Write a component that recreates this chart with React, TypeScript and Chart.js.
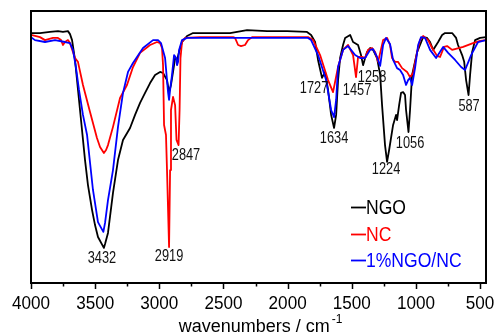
import { useEffect, useRef } from 'react';
import { Chart, registerables } from 'chart.js';

Chart.register(...registerables);

// ---- Data (wavenumber in cm^-1, transmittance in a.u.) ----
const ngoWn = [4000, 3930, 3852, 3790, 3751, 3712, 3696, 3680, 3657, 3618, 3579, 3556, 3524, 3501, 3478, 3432, 3423, 3400, 3361, 3322, 3283, 3228, 3189, 3150, 3111, 3072, 3033, 2994, 2971, 2940, 2924, 2909, 2893, 2877, 2862, 2846, 2823, 2784, 2737, 2683, 2449, 2316, 2160, 2004, 1849, 1817, 1786, 1763, 1732, 1708, 1685, 1661, 1638, 1622, 1607, 1591, 1568, 1552, 1513, 1490, 1451, 1428, 1412, 1396, 1381, 1357, 1334, 1303, 1279, 1264, 1241, 1225, 1209, 1178, 1155, 1147, 1131, 1116, 1100, 1085, 1077, 1058, 1046, 1030, 991, 944, 913, 890, 866, 827, 796, 773, 718, 687, 672, 640, 624, 609, 590, 578, 562, 539, 500, 454];
const ngoT = [91.9, 91.9, 92.3, 92.6, 92.3, 92.6, 91.5, 89.3, 82.0, 63.6, 45.2, 36.0, 26.8, 21.3, 16.9, 12.9, 14.3, 18.4, 33.1, 45.2, 52.6, 57.0, 61.8, 66.2, 69.9, 73.5, 76.5, 77.6, 77.2, 74.6, 70.2, 72.8, 77.6, 82.7, 82.0, 84.9, 88.6, 90.8, 91.9, 91.9, 91.9, 93.0, 92.6, 92.6, 92.3, 91.2, 88.6, 82.0, 75.4, 77.6, 71.0, 61.8, 57.0, 61.8, 74.6, 82.7, 87.5, 90.1, 91.2, 88.6, 87.5, 83.8, 80.1, 82.7, 84.9, 86.4, 85.7, 82.7, 76.5, 65.4, 50.7, 44.5, 48.9, 58.1, 61.8, 59.9, 65.4, 69.9, 70.2, 69.1, 63.6, 55.5, 63.6, 76.5, 84.9, 90.4, 90.1, 88.6, 85.7, 88.6, 91.2, 91.9, 91.9, 90.1, 87.5, 83.8, 81.3, 74.6, 69.1, 76.5, 84.9, 89.3, 90.1, 90.4];

const ncWn = [4000, 3930, 3891, 3829, 3790, 3766, 3751, 3735, 3712, 3696, 3673, 3657, 3634, 3595, 3540, 3486, 3462, 3432, 3415, 3400, 3361, 3306, 3252, 3205, 3150, 3072, 3018, 2994, 2979, 2971, 2963, 2948, 2940, 2924, 2916, 2909, 2893, 2877, 2866, 2850, 2842, 2835, 2823, 2800, 2683, 2425, 2410, 2386, 2363, 2332, 2308, 2277, 2059, 1841, 1801, 1747, 1685, 1646, 1607, 1568, 1529, 1490, 1467, 1451, 1420, 1396, 1373, 1342, 1318, 1295, 1256, 1225, 1202, 1186, 1163, 1140, 1108, 1069, 1046, 1022, 991, 968, 944, 905, 874, 835, 812, 781, 757, 718, 632, 555, 500, 454];
const ncT = [91.2, 90.4, 89.3, 90.1, 90.1, 89.3, 87.5, 88.6, 89.3, 88.2, 84.9, 82.7, 81.3, 72.8, 62.9, 53.3, 50.0, 47.8, 48.9, 50.7, 57.4, 68.0, 72.8, 79.4, 84.6, 87.5, 88.6, 88.2, 86.4, 80.1, 58.1, 54.4, 41.5, 13.2, 41.5, 63.6, 68.4, 65.4, 52.6, 50.7, 63.6, 82.7, 88.6, 90.1, 90.4, 90.4, 90.1, 87.5, 87.1, 87.5, 89.3, 90.4, 90.4, 90.4, 89.3, 83.8, 74.6, 70.2, 79.4, 85.7, 87.5, 83.8, 75.7, 83.1, 83.1, 82.7, 85.7, 86.4, 84.9, 81.3, 89.3, 90.1, 87.5, 82.7, 81.3, 81.3, 79.0, 77.6, 75.7, 77.2, 84.9, 89.3, 90.8, 89.3, 86.4, 83.5, 83.1, 86.8, 87.1, 85.7, 86.8, 88.2, 89.0, 89.3];

const compWn = [4000, 3969, 3891, 3813, 3735, 3696, 3673, 3649, 3626, 3595, 3563, 3517, 3478, 3462, 3436, 3423, 3400, 3361, 3322, 3283, 3244, 3205, 3127, 3049, 3010, 2987, 2955, 2932, 2924, 2916, 2901, 2885, 2869, 2862, 2854, 2846, 2823, 2784, 2683, 2293, 1841, 1817, 1763, 1700, 1661, 1638, 1622, 1607, 1568, 1529, 1474, 1435, 1396, 1357, 1334, 1303, 1279, 1256, 1233, 1202, 1178, 1147, 1124, 1100, 1077, 1061, 1046, 1030, 1007, 983, 960, 929, 890, 843, 788, 749, 695, 648, 617, 570, 516, 454];
const compT = [90.4, 89.3, 88.6, 89.3, 88.6, 88.2, 85.7, 79.0, 71.0, 61.8, 54.4, 34.2, 22.4, 21.0, 18.8, 22.1, 30.5, 41.5, 57.4, 69.9, 77.6, 80.9, 86.4, 89.3, 89.3, 88.2, 82.7, 70.2, 67.3, 71.0, 76.5, 83.8, 82.7, 80.1, 81.3, 85.7, 89.3, 90.1, 90.1, 90.1, 90.1, 89.3, 83.8, 74.6, 63.6, 61.0, 67.3, 79.4, 85.7, 87.1, 83.8, 82.7, 82.7, 85.7, 86.0, 83.1, 79.8, 87.5, 90.1, 87.9, 82.0, 79.0, 78.3, 76.5, 72.8, 74.6, 75.4, 72.8, 79.0, 87.5, 90.4, 90.1, 85.7, 82.7, 86.8, 84.6, 82.0, 79.4, 78.3, 83.8, 88.6, 89.3];

const seriesNames = ['NGO', 'NC', '1%NGO/NC'];
const seriesColors = ['#000000', '#ff0000', '#0000ff'];

const xTickValues = [4000, 3500, 3000, 2500, 2000, 1500, 1000, 500];
const xAxisTitle = 'wavenumbers / cm';
const xAxisTitleSup = '-1';

const peakLabels = ['3432', '2919', '2847', '1727', '1634', '1457', '1258', '1224', '1056', '587'];
const peakLabelWn = [3447, 2924, 2792, 1794, 1638, 1459, 1342, 1233, 1046, 586];
const peakLabelT = [9.6, 10.3, 47.4, 72.1, 53.7, 71.3, 76.1, 42.3, 51.8, 65.4];

const FONT = '"Liberation Sans", Arial, Helvetica, sans-serif';

function drawText(ctx: CanvasRenderingContext2D, text: string, x: number, y: number, size: number, sx: number, align: CanvasTextAlign, color: string) {
  ctx.save();
  ctx.translate(x, y);
  ctx.scale(sx, 1);
  ctx.font = `${size}px ${FONT}`;
  ctx.textAlign = align;
  ctx.textBaseline = 'alphabetic';
  ctx.fillStyle = color;
  ctx.fillText(text, 0, 0);
  ctx.restore();
}

const decorPlugin = {
  id: 'decor',
  afterDraw(chart: any) {
    const ctx: CanvasRenderingContext2D = chart.ctx;
    const { left, top, right, bottom } = chart.chartArea;
    const xs = chart.scales.x;
    const ys = chart.scales.y;
    ctx.save();
    // frame
    ctx.strokeStyle = '#000';
    ctx.lineWidth = 2;
    ctx.strokeRect(left, top, right - left, bottom - top);
    // ticks
    ctx.lineWidth = 1.5;
    ctx.beginPath();
    xTickValues.forEach((v) => {
      const px = Math.round(xs.getPixelForValue(v)) + 0.5;
      ctx.moveTo(px, bottom);
      ctx.lineTo(px, bottom + 6);
      const mv = v - 250;
      if (mv >= xs.min) {
        const mpx = Math.round(xs.getPixelForValue(mv)) + 0.5;
        ctx.moveTo(mpx, bottom);
        ctx.lineTo(mpx, bottom + 3.5);
      }
    });
    ctx.stroke();
    // tick labels
    xTickValues.forEach((v) => {
      drawText(ctx, String(v), xs.getPixelForValue(v), bottom + 26, 19, 0.9, 'center', '#000');
    });
    // axis title with superscript
    ctx.font = `18px ${FONT}`;
    const w1 = ctx.measureText(xAxisTitle).width;
    ctx.font = `12px ${FONT}`;
    const w2 = ctx.measureText(xAxisTitleSup).width;
    const cx = (left + right) / 2;
    const startX = cx - (w1 + w2 + 2) / 2 + 2;
    drawText(ctx, xAxisTitle, startX, bottom + 48.5, 18, 1, 'left', '#000');
    drawText(ctx, xAxisTitleSup, startX + w1 + 2, bottom + 40, 12, 1, 'left', '#000');
    // peak labels
    peakLabels.forEach((t, i) => {
      const px = xs.getPixelForValue(peakLabelWn[i]);
      const py = ys.getPixelForValue(peakLabelT[i]);
      drawText(ctx, t, px, py + 5.7, 16, 0.8, 'center', '#111');
    });
    // legend
    const lx = right - 135;
    const rows = [bottom - 76, bottom - 49, bottom - 23];
    seriesNames.forEach((name, i) => {
      const y = rows[i];
      ctx.strokeStyle = seriesColors[i];
      ctx.lineWidth = 1.8;
      ctx.beginPath();
      ctx.moveTo(lx, y + 0.5);
      ctx.lineTo(lx + 15, y + 0.5);
      ctx.stroke();
      drawText(ctx, name, lx + 15, y + 7, 19.5, 0.9, 'left', seriesColors[i]);
    });
    ctx.restore();
  },
};

export default function App() {
  const canvasRef = useRef<HTMLCanvasElement | null>(null);

  useEffect(() => {
    document.body.style.margin = '0';
    const canvas = canvasRef.current;
    if (!canvas) return;
    const mk = (wn: number[], t: number[]) => wn.map((w, i) => ({ x: w, y: t[i] }));
    const chart = new Chart(canvas, {
      type: 'line',
      data: {
        datasets: [
          { label: seriesNames[0], data: mk(ngoWn, ngoT), borderColor: seriesColors[0], order: 3 },
          { label: seriesNames[1], data: mk(ncWn, ncT), borderColor: seriesColors[1], order: 2 },
          { label: seriesNames[2], data: mk(compWn, compT), borderColor: seriesColors[2], order: 1 },
        ].map((d) => ({
          ...d,
          borderWidth: 1.8,
          pointRadius: 0,
          tension: 0,
          fill: false,
          borderJoinStyle: 'round' as const,
        })),
      },
      options: {
        animation: false,
        responsive: false,
        maintainAspectRatio: false,
        parsing: false as any,
        layout: { padding: { left: 31, top: 11, right: 10, bottom: 51 } },
        plugins: {
          legend: { display: false },
          tooltip: { enabled: false },
        },
        scales: {
          x: { type: 'linear', reverse: true, min: 454, max: 4000, display: false },
          y: { type: 'linear', min: 0, max: 100, display: false },
        },
      },
      plugins: [decorPlugin],
    });
    return () => chart.destroy();
  }, []);

  return (
    <div style={{ width: 496, height: 334 }}>
      <canvas ref={canvasRef} width={496} height={334} style={{ display: 'block' }} />
    </div>
  );
}
